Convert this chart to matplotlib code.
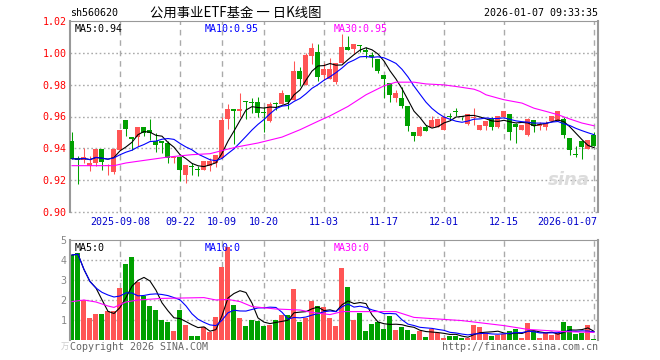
import numpy as np
import pandas as pd
import matplotlib
matplotlib.use("Agg")
from matplotlib import pyplot as plt

# === DATA ===
opens = [0.9448, 0.9340, 0.9330, 0.9292, 0.9309, 0.9398, 0.9288, 0.9250, 0.9392, 0.9579,
         0.9469, 0.9469, 0.9536, 0.9517, 0.9444, 0.9448, 0.9433, 0.9340, 0.9344, 0.9232,
         0.9292, 0.9269, 0.9267, 0.9288, 0.9309, 0.9340, 0.9584, 0.9648, 0.9636, 0.9694,
         0.9690, 0.9688, 0.9631, 0.9570, 0.9680, 0.9679, 0.9734, 0.9705, 0.9886, 0.9798,
         0.9980, 1.0002, 0.9861, 0.9834, 0.9815, 0.9934, 1.0034, 1.0021, 1.0042, 1.0010,
         0.9986, 0.9961, 0.9861, 0.9809, 0.9715, 0.9715, 0.9667, 0.9502, 0.9480, 0.9532,
         0.9532, 0.9532, 0.9517, 0.9597, 0.9628, 0.9600, 0.9552, 0.9590, 0.9517, 0.9538,
         0.9584, 0.9532, 0.9596, 0.9617, 0.9554, 0.9517, 0.9482, 0.9580, 0.9538, 0.9534,
         0.9569, 0.9569, 0.9584, 0.9465, 0.9361, 0.9448, 0.9398, 0.9486]
highs = [0.9506, 0.9350, 0.9400, 0.9355, 0.9398, 0.9398, 0.9300, 0.9400, 0.9517, 0.9579,
         0.9469, 0.9536, 0.9536, 0.9584, 0.9496, 0.9448, 0.9448, 0.9346, 0.9344, 0.9298,
         0.9309, 0.9290, 0.9319, 0.9340, 0.9361, 0.9600, 0.9677, 0.9648, 0.9750, 0.9700,
         0.9715, 0.9720, 0.9658, 0.9688, 0.9688, 0.9767, 0.9734, 0.9950, 0.9910, 1.0000,
         1.0063, 1.0054, 0.9934, 0.9965, 0.9934, 1.0117, 1.0105, 1.0054, 1.0048, 1.0038,
         1.0006, 0.9961, 0.9861, 0.9809, 0.9767, 0.9784, 0.9667, 0.9502, 0.9538, 0.9548,
         0.9604, 0.9584, 0.9604, 0.9620, 0.9652, 0.9600, 0.9615, 0.9652, 0.9548, 0.9569,
         0.9596, 0.9600, 0.9632, 0.9617, 0.9560, 0.9548, 0.9590, 0.9580, 0.9563, 0.9569,
         0.9604, 0.9636, 0.9600, 0.9465, 0.9417, 0.9448, 0.9454, 0.9500]
lows = [0.9336, 0.9177, 0.9310, 0.9257, 0.9290, 0.9263, 0.9232, 0.9242, 0.9392, 0.9480,
        0.9392, 0.9413, 0.9475, 0.9454, 0.9375, 0.9371, 0.9309, 0.9309, 0.9194, 0.9184,
        0.9232, 0.9225, 0.9267, 0.9257, 0.9282, 0.9340, 0.9523, 0.9427, 0.9600, 0.9584,
        0.9621, 0.9600, 0.9500, 0.9563, 0.9642, 0.9679, 0.9648, 0.9705, 0.9788, 0.9798,
        0.9927, 0.9825, 0.9830, 0.9834, 0.9804, 0.9934, 1.0017, 0.9992, 1.0006, 0.9965,
        0.9907, 0.9875, 0.9715, 0.9690, 0.9688, 0.9652, 0.9511, 0.9444, 0.9480, 0.9507,
        0.9532, 0.9532, 0.9517, 0.9575, 0.9605, 0.9575, 0.9544, 0.9548, 0.9517, 0.9513,
        0.9513, 0.9526, 0.9596, 0.9450, 0.9434, 0.9517, 0.9475, 0.9500, 0.9513, 0.9517,
        0.9569, 0.9569, 0.9465, 0.9361, 0.9344, 0.9334, 0.9398, 0.9417]
closes = [0.9336, 0.9330, 0.9345, 0.9309, 0.9398, 0.9313, 0.9298, 0.9398, 0.9517, 0.9521,
          0.9459, 0.9536, 0.9496, 0.9496, 0.9423, 0.9433, 0.9340, 0.9346, 0.9263, 0.9298,
          0.9284, 0.9267, 0.9319, 0.9319, 0.9361, 0.9580, 0.9648, 0.9636, 0.9648, 0.9690,
          0.9686, 0.9621, 0.9620, 0.9680, 0.9677, 0.9746, 0.9688, 0.9886, 0.9834, 0.9986,
          1.0027, 0.9850, 0.9898, 0.9898, 0.9934, 1.0034, 1.0017, 1.0054, 1.0040, 1.0007,
          0.9971, 0.9886, 0.9834, 0.9732, 0.9750, 0.9667, 0.9538, 0.9480, 0.9532, 0.9507,
          0.9580, 0.9584, 0.9596, 0.9595, 0.9627, 0.9599, 0.9615, 0.9597, 0.9548, 0.9569,
          0.9532, 0.9600, 0.9632, 0.9500, 0.9534, 0.9548, 0.9584, 0.9538, 0.9552, 0.9559,
          0.9604, 0.9636, 0.9486, 0.9388, 0.9360, 0.9406, 0.9454, 0.9417]
volumes = [4.25, 4.33, 2.0, 1.12, 1.3, 1.3, 1.45, 1.45, 2.6, 3.8,
           4.15, 2.9, 2.2, 1.7, 1.5, 1.0, 0.9, 0.45, 1.5, 0.75,
           0.2, 0.2, 0.63, 0.42, 1.15, 3.65, 4.65, 1.75, 1.12, 0.7,
           1.0, 0.95, 0.7, 0.75, 1.0, 1.25, 1.25, 2.55, 0.92, 1.12,
           1.95, 1.7, 1.65, 1.12, 0.7, 3.62, 2.67, 1.0, 1.37, 0.45,
           0.8, 0.9, 0.55, 1.2, 0.5, 0.67, 0.5, 0.3, 0.47, 0.17,
           0.55, 0.37, 0.1, 0.2, 0.2, 0.1, 0.1, 0.75, 0.67, 0.33,
           0.2, 0.25, 0.3, 0.45, 0.55, 0.08, 0.83, 0.45, 0.1, 0.33,
           0.25, 0.33, 0.9, 0.7, 0.3, 0.37, 0.75, 0.05]

ma30_idx = [0, 7, 9, 12, 16, 20, 23, 26, 28, 31, 35, 38, 41, 43, 46, 49, 52, 54, 57,
            59, 62, 64, 67, 68, 69, 71, 72, 75, 77, 79, 81, 83, 85, 87]
ma30_val = [0.9292, 0.9292, 0.9309, 0.9325, 0.9346, 0.9361, 0.9367, 0.9396, 0.9413, 0.9434,
            0.9471, 0.9517, 0.9570, 0.9604, 0.9663, 0.9736, 0.9792, 0.9815, 0.9815,
            0.9804, 0.9798, 0.9788, 0.9771, 0.9757, 0.9736, 0.9715, 0.9705, 0.9684, 0.9652,
            0.9632, 0.9611, 0.9584, 0.9559, 0.9542]
vma30_idx = [0, 2, 4, 6, 7, 9, 11, 15, 22, 24, 26, 28, 30, 34, 38, 40, 43, 45, 54, 57,
             62, 65, 72, 76, 82, 87]
vma30_val = [1.92, 2.0, 1.9, 1.7, 1.63, 1.9, 2.0, 2.08, 2.12, 2.0, 2.03, 1.92, 1.67, 1.55,
             1.5, 1.38, 1.27, 1.42, 1.42, 1.13, 1.03, 0.97, 0.72, 0.53, 0.42, 0.38]

tick_pos = [8, 18, 25, 32, 42, 52, 62, 72, 87]
tick_labels = ["2025-09-08", "09-22", "10-09", "10-20", "11-03", "11-17",
               "12-01", "12-15", "2026-01-07"]
price_ticks = [0.90, 0.92, 0.94, 0.96, 0.98, 1.00, 1.02]
vol_ticks = [1, 2, 3, 4, 5]

# === STYLE ===
RED = "#ff5555"
GREEN = "#00a000"
GRID = "#aaaaaa"
FRAME = "#999999"
MONO = "DejaVu Sans Mono"
CJK = ["Noto Sans CJK SC", "DejaVu Sans"]
plt.rcParams["lines.scale_dashes"] = False

W, H = 660, 360
fig = plt.figure(figsize=(W / 100, H / 100), dpi=100)


def px_axes(x0, y0, x1, y1):
    return fig.add_axes([x0 / W, 1 - y1 / H, (x1 - x0) / W, (y1 - y0) / H])


df = pd.DataFrame({"open": opens, "high": highs, "low": lows, "close": closes, "vol": volumes})
df["ma5"] = df["close"].rolling(5, min_periods=1).mean()
df["ma10"] = df["close"].rolling(10, min_periods=1).mean()
df["vma5"] = df["vol"].rolling(5, min_periods=1).mean()
df["vma10"] = df["vol"].rolling(10, min_periods=1).mean()
x = np.arange(len(df))
up = df["close"] >= df["open"]
colors = np.where(up, RED, GREEN)
XL = (-0.33, 87.67)

# === PRICE PANEL ===
ax = px_axes(70, 20.7, 598, 212.3)
ax.set_xlim(*XL)
ax.set_ylim(0.90, 1.02)
for t in price_ticks[:-1]:
    ax.axhline(t, color=GRID, lw=1, linestyle=(0, (1.2, 1.8)), zorder=0, clip_on=False)
for p in tick_pos:
    ax.axvline(p, color=GRID, lw=1, linestyle=(0, (4, 3.5)), zorder=0)

ax.vlines(x, df["low"], df["high"], colors=colors, lw=0.75, zorder=2)
body = (df["close"] - df["open"]).abs().clip(lower=0.0007)
ax.bar(x, body, bottom=np.minimum(df["open"], df["close"]), width=0.83,
       color=colors, lw=0, zorder=3)
ax.plot(x, df["ma5"], color="black", lw=0.8, zorder=4)
ax.plot(x, df["ma10"], color="#0000ff", lw=0.8, zorder=4)
ax.plot(ma30_idx, ma30_val, color="#ff00ff", lw=0.8, zorder=4)

ax.set_xticks([])
ax.set_yticks(price_ticks)
ax.set_yticklabels([f"{t:.2f}" for t in price_ticks], color="red", fontsize=7.2,
                   family=MONO)
ax.tick_params(axis="y", length=0, pad=2.5)
for s in ["top", "right", "left"]:
    ax.spines[s].set_color(FRAME)
ax.spines["left"].set_linewidth(1.5)
ax.spines["right"].set_linewidth(1.5)
ax.spines["bottom"].set_visible(False)

ax.text(0.008, 0.985, "MA5:0.94", transform=ax.transAxes, color="black",
        fontsize=7.2, family=MONO, va="top")
ax.text(0.255, 0.985, "MA10:0.95", transform=ax.transAxes, color="#0000ff",
        fontsize=7.2, family=MONO, va="top")
ax.text(0.5, 0.985, "MA30:0.95", transform=ax.transAxes, color="#ff00ff",
        fontsize=7.2, family=MONO, va="top")
ax.text(0.985, 0.17, "sina", transform=ax.transAxes, color="#dcdcdc",
        fontsize=13, style="italic", weight="bold", ha="right", va="center")

# date labels under price panel
for p, lab in zip(tick_pos, tick_labels):
    last = p == tick_pos[-1]
    ax.text(p + 0.5 if last else p, -0.025, lab, transform=ax.get_xaxis_transform(),
            color="#0000cc", fontsize=7.2, family=MONO,
            ha="right" if last else "center", va="top")

# === VOLUME PANEL ===
axv = px_axes(70, 240, 598, 340)
axv.set_xlim(*XL)
axv.set_ylim(0, 5)
for t in vol_ticks[:-1]:
    axv.axhline(t, color=GRID, lw=1, linestyle=(0, (1.2, 1.8)), zorder=0)
for p in tick_pos:
    axv.axvline(p, color=GRID, lw=1, linestyle=(0, (4, 3.5)), zorder=0)
axv.bar(x, df["vol"], width=0.83, color=colors, lw=0, zorder=2)
axv.plot(x, df["vma5"], color="black", lw=0.8, zorder=4)
axv.plot(x, df["vma10"], color="#0000ff", lw=0.8, zorder=4)
axv.plot(vma30_idx, vma30_val, color="#ff00ff", lw=0.8, zorder=4)
axv.set_xticks([])
axv.set_yticks(vol_ticks)
axv.set_yticklabels([str(t) for t in vol_ticks], color="#888888", fontsize=7.2,
                    family=MONO)
axv.tick_params(axis="y", length=0, pad=2.5)
for s in ["top", "right", "left"]:
    axv.spines[s].set_color(FRAME)
axv.spines["left"].set_linewidth(1.5)
axv.spines["right"].set_linewidth(1.5)
axv.spines["bottom"].set_visible(False)
axv.text(0.008, 0.97, "MA5:0", transform=axv.transAxes, color="black",
         fontsize=7.2, family=MONO, va="top")
axv.text(0.255, 0.97, "MA10:0", transform=axv.transAxes, color="#0000ff",
         fontsize=7.2, family=MONO, va="top")
axv.text(0.5, 0.97, "MA30:0", transform=axv.transAxes, color="#ff00ff",
         fontsize=7.2, family=MONO, va="top")

# === HEADER / FOOTER ===
fig.text(70 / W, 1 - 13 / H, "sh560620", fontsize=7.2, family=MONO, va="center")
fig.text(236 / W, 1 - 13 / H, "公用事业ETF基金 一 日K线图", fontsize=9.6, family=CJK,
         ha="center", va="center")
fig.text(598 / W, 1 - 13 / H, "2026-01-07 09:33:35", fontsize=7.2, family=MONO,
         ha="right", va="center")
fig.text(70 / W, 1 - 347 / H, "Copyright 2026 SINA.COM", fontsize=7.2, family=MONO,
         color="#666666", va="center")
fig.text(598 / W, 1 - 347 / H, "http://finance.sina.com.cn", fontsize=7.2, family=MONO,
         color="#666666", ha="right", va="center")
fig.text(61 / W, 1 - 346 / H, "万", fontsize=6, family=CJK, color="#cccccc", va="center")

fig.savefig("out.png", dpi=100, facecolor="white")
